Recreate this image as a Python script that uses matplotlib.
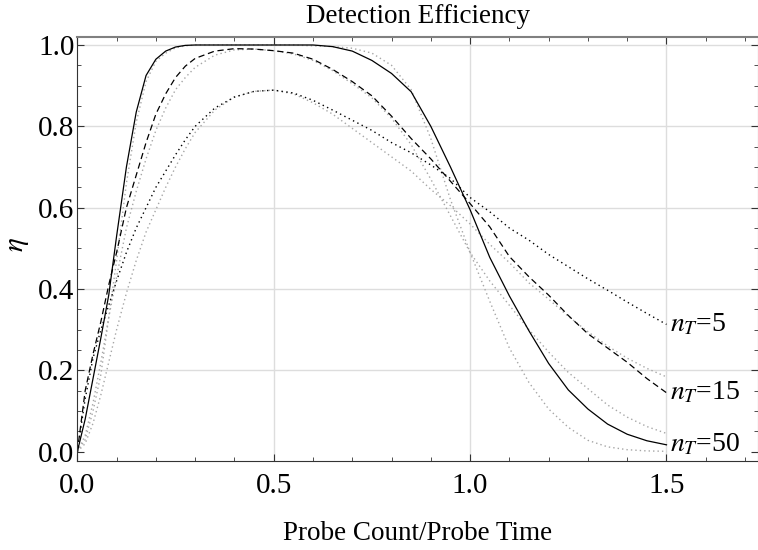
import numpy as np
import matplotlib
matplotlib.use("Agg")
import matplotlib.pyplot as plt
from matplotlib.ticker import MultipleLocator

plt.rcParams['font.family'] = ['Liberation Serif', 'DejaVu Serif']
plt.rcParams['mathtext.fontset'] = 'stix'

# sample points
x = [0, 0.02, 0.04, 0.06, 0.08, 0.1, 0.125, 0.15, 0.175, 0.2, 0.225, 0.25, 0.275, 0.3, 0.35,
     0.4, 0.45, 0.5, 0.55, 0.6, 0.65, 0.7, 0.75, 0.8, 0.85, 0.9, 0.95, 1.0, 1.05, 1.1,
     1.15, 1.2, 1.25, 1.3, 1.35, 1.4, 1.45, 1.5]

# black curves
eta_n5 = [0, 0.13, 0.23, 0.30, 0.36, 0.42, 0.49, 0.55, 0.60, 0.65, 0.69, 0.73, 0.767, 0.80,
          0.845, 0.872, 0.886, 0.889, 0.882, 0.864, 0.84, 0.815, 0.79, 0.76, 0.735, 0.705,
          0.672, 0.625, 0.59, 0.55, 0.52, 0.485, 0.455, 0.425, 0.397, 0.368, 0.34, 0.313]
eta_n15 = [0, 0.15, 0.24, 0.32, 0.41, 0.49, 0.60, 0.68, 0.76, 0.83, 0.88, 0.92, 0.948, 0.967,
           0.985, 0.991, 0.99, 0.986, 0.98, 0.965, 0.94, 0.91, 0.875, 0.825, 0.77, 0.72,
           0.665, 0.61, 0.553, 0.48, 0.43, 0.385, 0.335, 0.29, 0.255, 0.22, 0.18, 0.145]
eta_n50 = [0, 0.08, 0.18, 0.28, 0.385, 0.53, 0.70, 0.835, 0.925, 0.965, 0.985, 0.995, 0.999,
           1.0, 1.0, 1.0, 1.0, 1.0, 1.0, 1.0, 0.996, 0.985, 0.962, 0.93, 0.885, 0.80, 0.70,
           0.595, 0.478, 0.383, 0.297, 0.217, 0.152, 0.105, 0.068, 0.043, 0.027, 0.017]

# gray (approximate) curves
gray_n5 = [0, 0.02, 0.07, 0.14, 0.22, 0.30, 0.39, 0.47, 0.54, 0.595, 0.65, 0.70, 0.745, 0.785,
           0.84, 0.872, 0.886, 0.889, 0.88, 0.858, 0.83, 0.795, 0.76, 0.725, 0.69, 0.645,
           0.605, 0.56, 0.51, 0.465, 0.415, 0.375, 0.333, 0.295, 0.26, 0.23, 0.205, 0.184]
gray_n15 = [0, 0.04, 0.12, 0.22, 0.33, 0.43, 0.55, 0.64, 0.72, 0.79, 0.845, 0.89, 0.92, 0.945,
            0.975, 0.988, 0.99, 0.986, 0.978, 0.962, 0.937, 0.905, 0.87, 0.82, 0.755, 0.67,
            0.58, 0.49, 0.42, 0.36, 0.30, 0.245, 0.195, 0.155, 0.115, 0.085, 0.062, 0.045]
gray_n50 = [0, 0.03, 0.10, 0.19, 0.33, 0.47, 0.66, 0.81, 0.91, 0.96, 0.98, 0.993, 0.998, 1.0,
            1.0, 1.0, 1.0, 1.0, 1.0, 0.998, 0.996, 0.992, 0.98, 0.95, 0.89, 0.77, 0.62,
            0.49, 0.37, 0.255, 0.17, 0.105, 0.06, 0.028, 0.012, 0.005, 0.002, 0.001]

labels = ['$n_T$=5', '$n_T$=15', '$n_T$=50']

fig = plt.figure(figsize=(7.58, 5.5), dpi=100)
ax = fig.add_axes([0.102, 0.1624, 0.898, 0.7703])

gray = '#a6a6a6'
ax.plot(x, gray_n5, color=gray, lw=1.0, ls=(0, (1, 2.2)))
ax.plot(x, gray_n15, color=gray, lw=1.0, ls=(0, (1, 2.2)))
ax.plot(x, gray_n50, color=gray, lw=1.0, ls=(0, (1, 2.2)))
ax.plot(x, eta_n5, color='black', lw=1.0, ls=(0, (1, 2.5)))
ax.plot(x, eta_n15, color='black', lw=0.9, ls=(0, (5, 3)))
ax.plot(x, eta_n50, color='black', lw=0.9, ls='-')

for ys, lab in zip([eta_n5, eta_n15, eta_n50], labels):
    ax.text(x[-1] + 0.01, ys[-1], lab, fontsize=20, ha='left', va='center')

ax.set_xlim(0, 1.733)
ax.set_ylim(-0.022, 1.0196)
ax.xaxis.set_minor_locator(MultipleLocator(0.1))
ax.yaxis.set_minor_locator(MultipleLocator(0.05))
ax.set_xticks([0, 0.5, 1.0, 1.5])
ax.set_xticklabels(['0.0', '0.5', '1.0', '1.5'])
ax.set_yticks([0, 0.2, 0.4, 0.6, 0.8, 1.0])
ax.set_yticklabels(['0.0', '0.2', '0.4', '0.6', '0.8', '1.0'])

for g in [0.5, 1.0, 1.5]:
    ax.axvline(g, color='#dddddd', lw=1.0, zorder=0)
for g in [0.2, 0.4, 0.6, 0.8, 1.0]:
    ax.axhline(g, color='#dddddd', lw=1.0, zorder=0)

ax.tick_params(which='both', direction='in', top=True, right=True, labelsize=21,
               color='#333333')
ax.tick_params(which='major', length=5, width=0.8)
ax.tick_params(axis='x', which='major', pad=9)
ax.tick_params(axis='y', which='major', pad=2)
ax.tick_params(which='minor', length=3, width=0.6)
for s in ['left', 'bottom']:
    ax.spines[s].set_color('#333333')
ax.spines['top'].set_color('#808080')
ax.spines['top'].set_linewidth(1.5)
ax.spines['right'].set_color('#808080')

ax.set_title('Detection Efficiency', fontsize=19.5, pad=10)
ax.set_xlabel('Probe Count/Probe Time', fontsize=19.5, labelpad=16)
ax.set_ylabel(r'$\eta$', fontsize=21)
ax.yaxis.set_label_coords(-0.068, 0.509)

fig.savefig('out.png', dpi=100)
